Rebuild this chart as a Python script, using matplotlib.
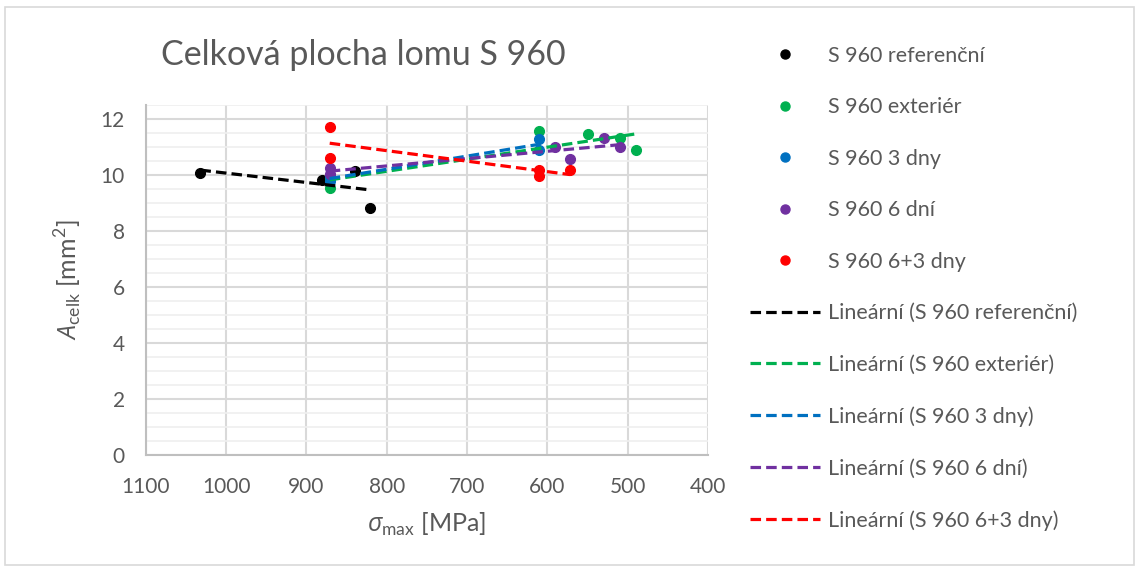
import numpy as np
import matplotlib
matplotlib.use("Agg")
import matplotlib.pyplot as plt
from matplotlib.lines import Line2D
from matplotlib.patches import Rectangle

plt.rcParams['font.family'] = ['Lato', 'DejaVu Sans']
plt.rcParams['mathtext.fontset'] = 'custom'
plt.rcParams['mathtext.rm'] = 'Lato'
plt.rcParams['mathtext.it'] = 'Open Sans:italic'

# data: sigma_max [MPa], A_celk [mm2]
ref_x = [1032, 880, 840, 821]
ref_y = [10.08, 9.82, 10.14, 8.81]
ext_x = [871, 871, 611, 550, 510, 490]
ext_y = [9.52, 9.90, 11.57, 11.48, 11.31, 10.89]
d3_x = [871, 871, 611, 611]
d3_y = [9.95, 9.80, 11.29, 10.90]
d6_x = [871, 871, 590, 572, 529, 510]
d6_y = [10.25, 10.05, 11.00, 10.56, 11.33, 11.01]
d63_x = [871, 871, 611, 611, 572]
d63_y = [11.70, 10.60, 10.18, 9.96, 10.18]

names = ['S 960 referenční', 'S 960 exteriér', 'S 960 3 dny', 'S 960 6 dní', 'S 960 6+3 dny']
colors = ['#000000', '#00B050', '#0070C0', '#7030A0', '#FF0000']
series = [(ref_x, ref_y), (ext_x, ext_y), (d3_x, d3_y), (d6_x, d6_y), (d63_x, d63_y)]

grey = '#595959'
fig = plt.figure(figsize=(11.39, 5.68), dpi=100)
fig.patches.append(Rectangle((0.004, 0.006), 0.992, 0.982, transform=fig.transFigure,
                             fill=False, edgecolor='#D9D9D9', linewidth=1.2))
ax = fig.add_axes([0.128, 0.199, 0.4936, 0.616])

for (x, y), c in zip(series, colors):
    ax.plot(x, y, 'o', color=c, markersize=7, zorder=3)
for (x, y), c in zip(series, colors):
    k, q = np.polyfit(x, y, 1)
    xs = np.array([max(x), min(x)])
    ax.plot(xs, k * xs + q, color=c, linewidth=2.3, dashes=(3.3, 1.6), zorder=4)

ax.set_xlim(1100, 400)
ax.set_ylim(0, 12.5)
ax.set_xticks(np.arange(1100, 399, -100))
ax.set_yticks(np.arange(0, 12.1, 2))
ax.set_yticks(np.arange(0, 12.6, 0.5), minor=True)
ax.grid(True, which='major', color='#D9D9D9', linewidth=1.5)
ax.grid(True, which='minor', axis='y', color='#EFEFEF', linewidth=1.2)
ax.set_axisbelow(True)
for s in ['top', 'right']:
    ax.spines[s].set_visible(False)
for s in ['left', 'bottom']:
    ax.spines[s].set_color('#BFBFBF')
    ax.spines[s].set_linewidth(1.5)
ax.tick_params(which='both', length=0, labelsize=15, labelcolor=grey)
ax.tick_params(axis='y', pad=15)
ax.tick_params(axis='x', pad=16)

ax.set_xlabel(r'$\mathit{\sigma}_{\mathrm{max}}$ [MPa]', fontsize=18, color=grey, labelpad=10)
ax.set_ylabel(r'$\mathit{A}_{\mathrm{celk}}$ [mm$^2$]', fontsize=18, color=grey, labelpad=12)

fig.text(363 / 1139, 1 - 55 / 568, 'Celková plocha lomu S 960', fontsize=24.5,
         color=grey, ha='center', va='center')

handles = [Line2D([], [], linestyle='none', marker='o', color=c, markersize=6.5) for c in colors]
handles += [Line2D([], [], color=c, linewidth=2.3, dashes=(3.3, 1.6)) for c in colors]
labels = names + ['Lineární (%s)' % n for n in names]
leg = fig.legend(handles, labels, loc='upper left', bbox_to_anchor=(741 / 1139, 1 - 37 / 568),
                 frameon=False, fontsize=15.5, handlelength=3.25, handletextpad=0.37,
                 labelspacing=1.465, borderaxespad=0)
for t in leg.get_texts():
    t.set_color(grey)

fig.savefig('out.png', dpi=100)
